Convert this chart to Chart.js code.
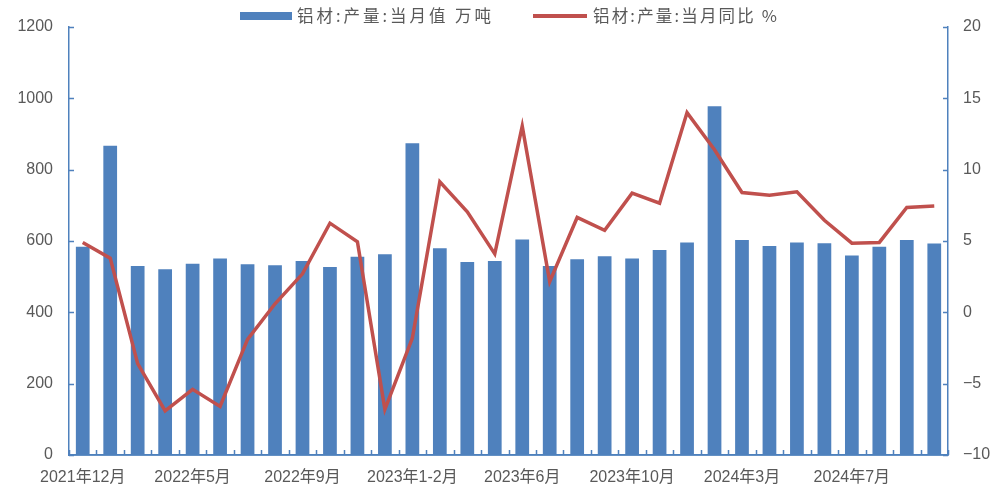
<!DOCTYPE html>
<html lang="zh">
<head>
    <meta charset="UTF-8">
    <title>铝材产量</title>
    <script src="https://cdn.jsdelivr.net/npm/chart.js@4.4.0/dist/chart.umd.min.js"></script>
    <style>
        html, body { margin: 0; padding: 0; background: #fff; }
        .chart-wrap { position: relative; width: 1006px; height: 491px; }
    </style>
</head>
<body>
    <div class="chart-wrap"><canvas id="chart"></canvas></div>

    <script>
        // months on the x axis
        const months = [
            '2021年12月', '2022年1-2月', '2022年3月', '2022年4月', '2022年5月', '2022年6月',
            '2022年7月', '2022年8月', '2022年9月', '2022年10月', '2022年11月', '2022年12月',
            '2023年1-2月', '2023年3月', '2023年4月', '2023年5月', '2023年6月', '2023年7月',
            '2023年8月', '2023年9月', '2023年10月', '2023年11月', '2023年12月', '2024年1-2月',
            '2024年3月', '2024年4月', '2024年5月', '2024年6月', '2024年7月', '2024年8月',
            '2024年9月', '2024年10月'
        ];
        // 铝材 产量 当月值, 万吨
        const output = [
            584, 867, 530, 521, 536, 551, 535, 532, 544, 527, 556, 563,
            874, 580, 541, 544, 604, 530, 549, 557, 551, 575, 596, 978,
            603, 586, 596, 594, 559, 584, 603, 593
        ];
        // 铝材 产量 当月同比, %
        const yoy = [
            4.9, 3.8, -3.6, -6.9, -5.4, -6.6, -1.9, 0.6, 2.7, 6.25, 4.95, -6.8,
            -1.8, 9.15, 7.05, 4.1, 13.05, 2.15, 6.65, 5.75, 8.35, 7.65, 14.0, 11.4,
            8.4, 8.2, 8.45, 6.45, 4.85, 4.9, 7.35, 7.45
        ];
        const legendNames = ['铝材:产量:当月值 万吨', '铝材:产量:当月同比 %'];

        const blue = '#4F81BD';
        const red = '#C0504D';
        const textGrey = '#595959';
        const tickFont = { family: '"Liberation Sans", "Noto Sans CJK SC", sans-serif', size: 16 };

        // small tick marks pointing into the plot, plus the legend drawn with wide spacing
        const decorations = {
            id: 'decorations',
            afterDraw(chart) {
                const ctx = chart.ctx;
                const area = chart.chartArea;
                const yL = chart.scales.y;
                const yR = chart.scales.y1;
                ctx.save();
                ctx.strokeStyle = blue;
                ctx.lineWidth = 1.5;
                ctx.beginPath();
                yL.ticks.forEach(t => {
                    const y = Math.round(yL.getPixelForValue(t.value)) + 0.5;
                    ctx.moveTo(area.left, y);
                    ctx.lineTo(area.left + 5, y);
                });
                yR.ticks.forEach(t => {
                    const y = Math.round(yR.getPixelForValue(t.value)) + 0.5;
                    ctx.moveTo(area.right - 5, y);
                    ctx.lineTo(area.right, y);
                });
                const n = months.length;
                for (let i = 0; i <= n; i++) {
                    const x = Math.round(area.left + i * area.width / n) + 0.5;
                    ctx.moveTo(x, area.bottom);
                    ctx.lineTo(x, area.bottom - 5);
                }
                ctx.moveTo(area.left, area.bottom);
                ctx.lineTo(area.right, area.bottom);
                ctx.stroke();

                // legend
                ctx.font = '16.5px "Noto Sans CJK SC", sans-serif';
                ctx.textBaseline = 'middle';
                const drawSpaced = (text, x, y, width) => {
                    ctx.letterSpacing = '0px';
                    const w = ctx.measureText(text).width;
                    const gap = Math.max(0, (width - w) / (text.length - 1));
                    ctx.letterSpacing = gap.toFixed(2) + 'px';
                    ctx.fillText(text, x, y);
                    ctx.letterSpacing = '0px';
                };
                ctx.fillStyle = blue;
                ctx.fillRect(240, 12, 52, 8);
                ctx.fillStyle = textGrey;
                drawSpaced(legendNames[0], 297, 16, 194);

                ctx.strokeStyle = red;
                ctx.lineWidth = 4;
                ctx.beginPath();
                ctx.moveTo(533, 16);
                ctx.lineTo(587, 16);
                ctx.stroke();
                drawSpaced(legendNames[1], 593, 16, 184);
                ctx.restore();
            }
        };

        new Chart(document.getElementById('chart'), {
            data: {
                labels: months,
                datasets: [
                    {
                        type: 'line',
                        label: legendNames[1],
                        data: yoy,
                        yAxisID: 'y1',
                        borderColor: red,
                        borderWidth: 3.5,
                        pointRadius: 0,
                        tension: 0,
                        order: 0
                    },
                    {
                        type: 'bar',
                        label: legendNames[0],
                        data: output,
                        yAxisID: 'y',
                        backgroundColor: blue,
                        categoryPercentage: 1,
                        barPercentage: 0.5,
                        order: 1
                    }
                ]
            },
            options: {
                responsive: true,
                maintainAspectRatio: false,
                animation: false,
                layout: { padding: { top: 27, left: 0, right: 0, bottom: 0 } },
                plugins: {
                    legend: { display: false },
                    tooltip: { enabled: false }
                },
                scales: {
                    x: {
                        grid: { display: false },
                        border: { color: blue, width: 1.5 },
                        ticks: {
                            autoSkip: false,
                            maxRotation: 0,
                            padding: 5,
                            color: textGrey,
                            font: tickFont,
                            callback: (v, i) => (i % 4 === 0 ? months[i] : '')
                        },
                        afterFit: s => { s.height = 36; }
                    },
                    y: {
                        position: 'left',
                        min: 0,
                        max: 1200,
                        grid: { display: false },
                        border: { color: blue, width: 1.5 },
                        ticks: {
                            stepSize: 200,
                            padding: 8,
                            color: textGrey,
                            font: tickFont,
                            callback: v => String(v)
                        },
                        afterFit: s => { s.width = 69; }
                    },
                    y1: {
                        position: 'right',
                        min: -10,
                        max: 20,
                        grid: { display: false },
                        border: { color: blue, width: 1.5 },
                        ticks: {
                            stepSize: 5,
                            padding: 7,
                            color: textGrey,
                            font: tickFont,
                            callback: v => (v < 0 ? '\u2212' + Math.abs(v) : String(v))
                        },
                        afterFit: s => { s.width = 58; }
                    }
                }
            },
            plugins: [decorations]
        });
    </script>
</body>
</html>
